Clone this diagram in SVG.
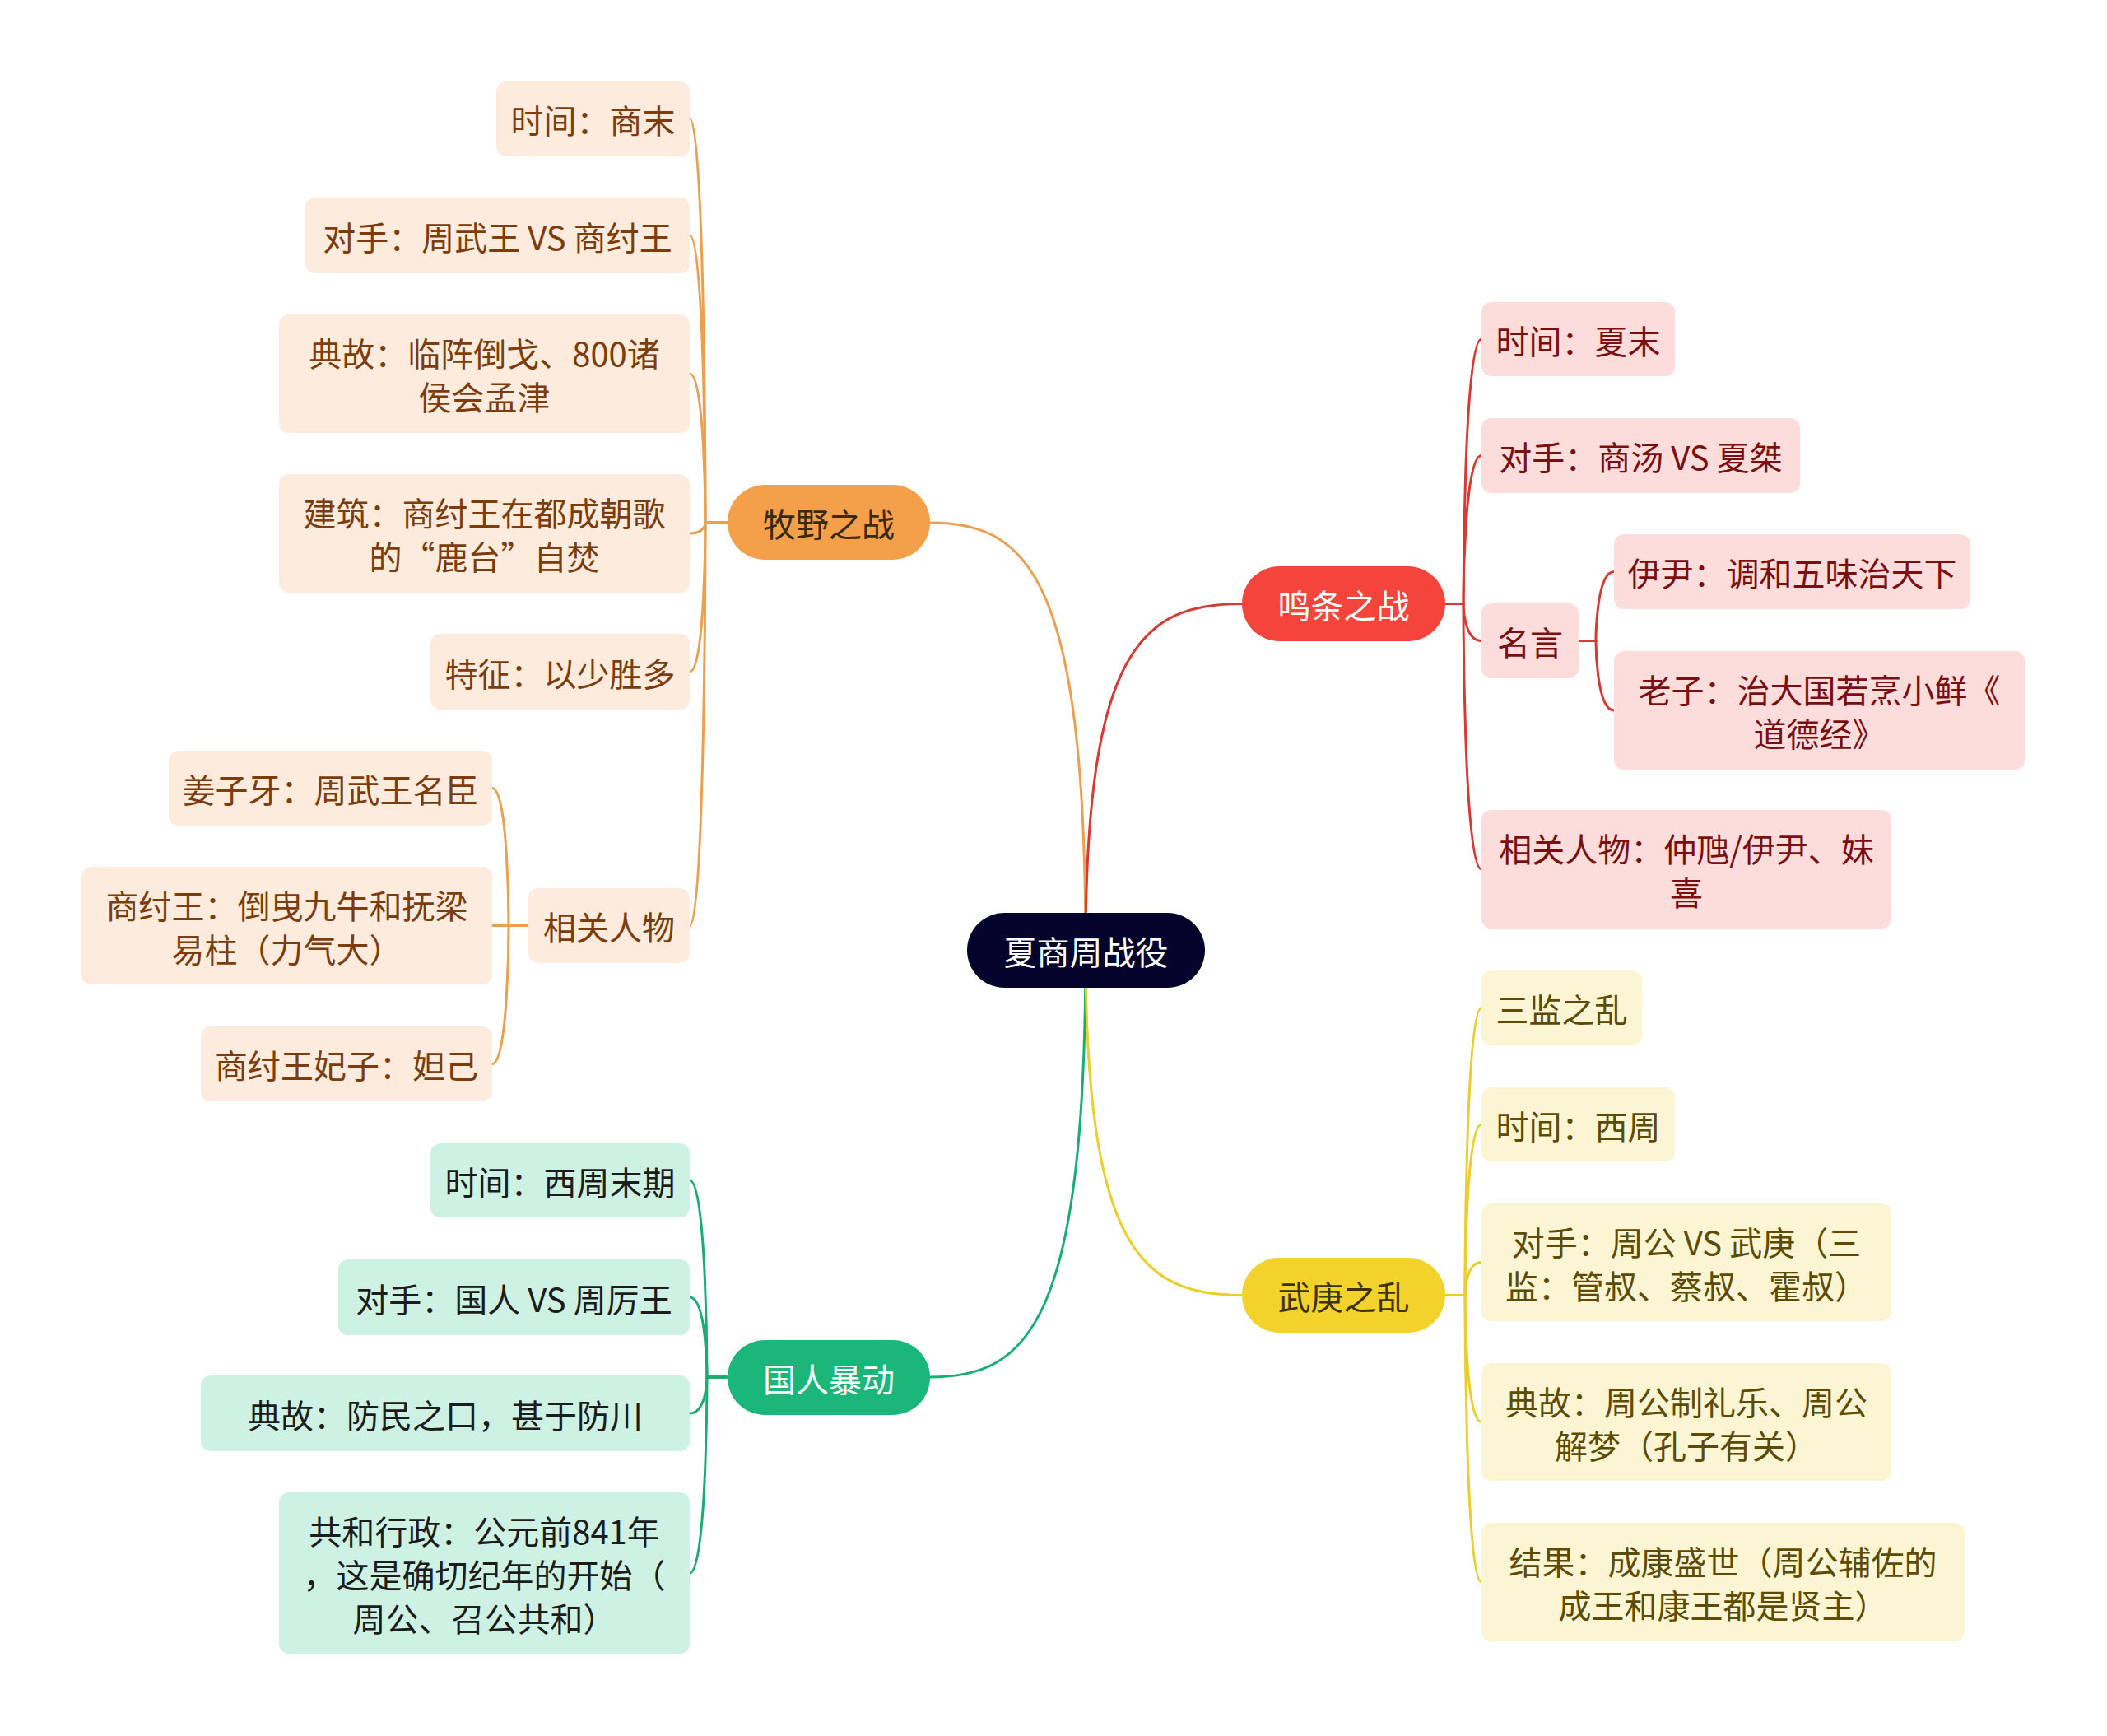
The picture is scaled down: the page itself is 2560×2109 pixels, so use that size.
<svg xmlns="http://www.w3.org/2000/svg" width="2560" height="2109" viewBox="0 0 2560 2109">
<style>
text{font-family:"Noto Sans CJK SC","Microsoft YaHei",sans-serif;font-size:40px;text-anchor:middle;dominant-baseline:central}
.ln{fill:none;stroke-width:3;stroke-linecap:round}
.lo{stroke:#eba04f}.lr{stroke:#d63a35}.lg{stroke:#19ad73}.ly{stroke:#ebcd2c}
.bo{fill:#fdecdd}.to{fill:#7c3c0c}
.br{fill:#fddcdc}.tr{fill:#7a0f0f}
.bg{fill:#cdf1e2}.tg{fill:#1c1c1c}
.by{fill:#fcf5d3}.ty{fill:#5c4b00}
</style>
<rect width="2560" height="2109" fill="#ffffff"/>
<g id="connectors">
<path class="ln lo" d="M1319,1154 C1319,700 1249,635 1130,635"/>
<path class="ln lr" d="M1319,1154 C1319,786 1389,733.5 1509,733.5"/>
<path class="ln lg" d="M1319,1154 C1319,1608 1249,1673 1130,1673"/>
<path class="ln ly" d="M1319,1154 C1319,1520 1389,1573.5 1509,1573.5"/>
<path class="ln lo" d="M884,635 H857 C857,635 857,144.5 838,144.5"/>
<path class="ln lo" d="M884,635 H857 C857,635 857,286 838,286"/>
<path class="ln lo" d="M884,635 H857 C857,635 857,454 838,454"/>
<path class="ln lo" d="M884,635 H857 C857,635 857,648 838,648"/>
<path class="ln lo" d="M884,635 H857 C857,635 857,816 838,816"/>
<path class="ln lo" d="M884,635 H857 C857,635 857,1124.5 838,1124.5"/>
<path class="ln lo" d="M642,1124.5 H618 C618,1124.5 618,957.5 598,957.5"/>
<path class="ln lo" d="M642,1124.5 H598"/>
<path class="ln lo" d="M642,1124.5 H618 C618,1124.5 618,1292.5 598,1292.5"/>
<path class="ln lg" d="M884,1673 H859 C859,1673 859,1434 838,1434"/>
<path class="ln lg" d="M884,1673 H859 C859,1673 859,1576 838,1576"/>
<path class="ln lg" d="M884,1673 H859 C859,1673 859,1717 838,1717"/>
<path class="ln lg" d="M884,1673 H859 C859,1673 859,1911 838,1911"/>
<path class="ln lr" d="M1755,733.5 H1778 C1778,733.5 1778,412 1800,412"/>
<path class="ln lr" d="M1755,733.5 H1778 C1778,733.5 1778,553.5 1800,553.5"/>
<path class="ln lr" d="M1755,733.5 H1778 C1778,733.5 1778,778.5 1800,778.5"/>
<path class="ln lr" d="M1755,733.5 H1778 C1778,733.5 1778,1056 1800,1056"/>
<path class="ln lr" d="M1918,778.5 H1939 C1939,778.5 1939,694.5 1961,694.5"/>
<path class="ln lr" d="M1918,778.5 H1939 C1939,778.5 1939,863 1961,863"/>
<path class="ln ly" d="M1755,1573.5 H1780 C1780,1573.5 1780,1224.5 1800,1224.5"/>
<path class="ln ly" d="M1755,1573.5 H1780 C1780,1573.5 1780,1366 1800,1366"/>
<path class="ln ly" d="M1755,1573.5 H1780 C1780,1573.5 1780,1533.5 1800,1533.5"/>
<path class="ln ly" d="M1755,1573.5 H1780 C1780,1573.5 1780,1727.5 1800,1727.5"/>
<path class="ln ly" d="M1755,1573.5 H1780 C1780,1573.5 1780,1922 1800,1922"/>
</g>
<g id="root"><rect x="1175" y="1109" width="289" height="91" rx="45.5" fill="#03032b"/><text x="1319.5" y="1155" fill="#ffffff">夏商周战役</text></g>

<g id="muye"><rect x="884" y="589" width="246" height="91" rx="45.5" fill="#f4a04b"/><text x="1007" y="635" fill="#3b2a12">牧野之战</text></g>
<g id="muye-time"><rect class="bo" x="603" y="99" width="235" height="91" rx="12"/><text class="to" x="720.5" y="145">时间：商末</text></g>
<g id="muye-rival"><rect class="bo" x="371" y="240" width="467" height="92" rx="12"/><text class="to" x="604.5" y="286.5">对手：周武王 VS 商纣王</text></g>
<g id="muye-story"><rect class="bo" x="339" y="382" width="499" height="144" rx="12"/><text class="to"><tspan x="588.5" y="428">典故：临阵倒戈、800诸</tspan><tspan x="588.5" y="481">侯会孟津</tspan></text></g>
<g id="muye-building"><rect class="bo" x="339" y="576" width="499" height="144" rx="12"/><text class="to"><tspan x="588.5" y="622">建筑：商纣王在都成朝歌</tspan><tspan x="588.5" y="675">的“鹿台”自焚</tspan></text></g>
<g id="muye-feature"><rect class="bo" x="523" y="770" width="315" height="92" rx="12"/><text class="to" x="680.5" y="816.5">特征：以少胜多</text></g>
<g id="muye-people"><rect class="bo" x="642" y="1079" width="196" height="91" rx="12"/><text class="to" x="740" y="1125">相关人物</text></g>
<g id="muye-jiang"><rect class="bo" x="205" y="912" width="393" height="91" rx="12"/><text class="to" x="401.5" y="958">姜子牙：周武王名臣</text></g>
<g id="muye-zhou"><rect class="bo" x="99" y="1053" width="499" height="143" rx="12"/><text class="to"><tspan x="348.5" y="1098.5">商纣王：倒曳九牛和抚梁</tspan><tspan x="348.5" y="1151.5">易柱（力气大）</tspan></text></g>
<g id="muye-daji"><rect class="bo" x="244" y="1247" width="354" height="91" rx="12"/><text class="to" x="421" y="1293">商纣王妃子：妲己</text></g>

<g id="guoren"><rect x="884" y="1628" width="246" height="91" rx="45.5" fill="#1bb67a"/><text x="1007" y="1674" fill="#ffffff">国人暴动</text></g>
<g id="guoren-time"><rect class="bg" x="523" y="1389" width="315" height="90" rx="12"/><text class="tg" x="680.5" y="1434.5">时间：西周末期</text></g>
<g id="guoren-rival"><rect class="bg" x="411" y="1530" width="427" height="92" rx="12"/><text class="tg" x="624.5" y="1576.5">对手：国人 VS 周厉王</text></g>
<g id="guoren-story"><rect class="bg" x="244" y="1671" width="594" height="92" rx="12"/><text class="tg" x="541" y="1717.5">典故：防民之口，甚于防川</text></g>
<g id="guoren-gonghe"><rect class="bg" x="339" y="1813" width="499" height="196" rx="12"/><text class="tg"><tspan x="588.5" y="1858.5">共和行政：公元前841年</tspan><tspan x="588.5" y="1911.5">，这是确切纪年的开始（</tspan><tspan x="588.5" y="1964.5">周公、召公共和）</tspan></text></g>

<g id="mingtiao"><rect x="1509" y="688" width="247" height="91" rx="45.5" fill="#f5443c"/><text x="1632.5" y="734" fill="#ffffff">鸣条之战</text></g>
<g id="mingtiao-time"><rect class="br" x="1800" y="367" width="235" height="90" rx="12"/><text class="tr" x="1917.5" y="412.5">时间：夏末</text></g>
<g id="mingtiao-rival"><rect class="br" x="1800" y="508" width="387" height="91" rx="12"/><text class="tr" x="1993.5" y="554">对手：商汤 VS 夏桀</text></g>
<g id="mingtiao-quotes"><rect class="br" x="1800" y="733" width="118" height="91" rx="12"/><text class="tr" x="1859" y="779">名言</text></g>
<g id="mingtiao-yiyin"><rect class="br" x="1961" y="649" width="433" height="91" rx="12"/><text class="tr" x="2177.5" y="695">伊尹：调和五味治天下</text></g>
<g id="mingtiao-laozi"><rect class="br" x="1961" y="791" width="499" height="144" rx="12"/><text class="tr"><tspan x="2210.5" y="837">老子：治大国若烹小鲜《</tspan><tspan x="2210.5" y="890">道德经》</tspan></text></g>
<g id="mingtiao-people"><rect class="br" x="1800" y="984" width="498" height="144" rx="12"/><text class="tr"><tspan x="2049" y="1030">相关人物：仲虺/伊尹、妹</tspan><tspan x="2049" y="1083">喜</tspan></text></g>

<g id="wugeng"><rect x="1509" y="1528" width="247" height="91" rx="45.5" fill="#f2d22b"/><text x="1632.5" y="1574" fill="#3d3200">武庚之乱</text></g>
<g id="wugeng-sanjian"><rect class="by" x="1800" y="1179" width="195" height="91" rx="12"/><text class="ty" x="1897.5" y="1225">三监之乱</text></g>
<g id="wugeng-time"><rect class="by" x="1800" y="1321" width="235" height="90" rx="12"/><text class="ty" x="1917.5" y="1366.5">时间：西周</text></g>
<g id="wugeng-rival"><rect class="by" x="1800" y="1462" width="498" height="143" rx="12"/><text class="ty"><tspan x="2049" y="1507.5">对手：周公 VS 武庚（三</tspan><tspan x="2049" y="1560.5">监：管叔、蔡叔、霍叔）</tspan></text></g>
<g id="wugeng-story"><rect class="by" x="1800" y="1656" width="498" height="143" rx="12"/><text class="ty"><tspan x="2049" y="1701.5">典故：周公制礼乐、周公</tspan><tspan x="2049" y="1754.5">解梦（孔子有关）</tspan></text></g>
<g id="wugeng-result"><rect class="by" x="1800" y="1850" width="587" height="144" rx="12"/><text class="ty"><tspan x="2093.5" y="1896">结果：成康盛世（周公辅佐的</tspan><tspan x="2093.5" y="1949">成王和康王都是贤主）</tspan></text></g>
</svg>
